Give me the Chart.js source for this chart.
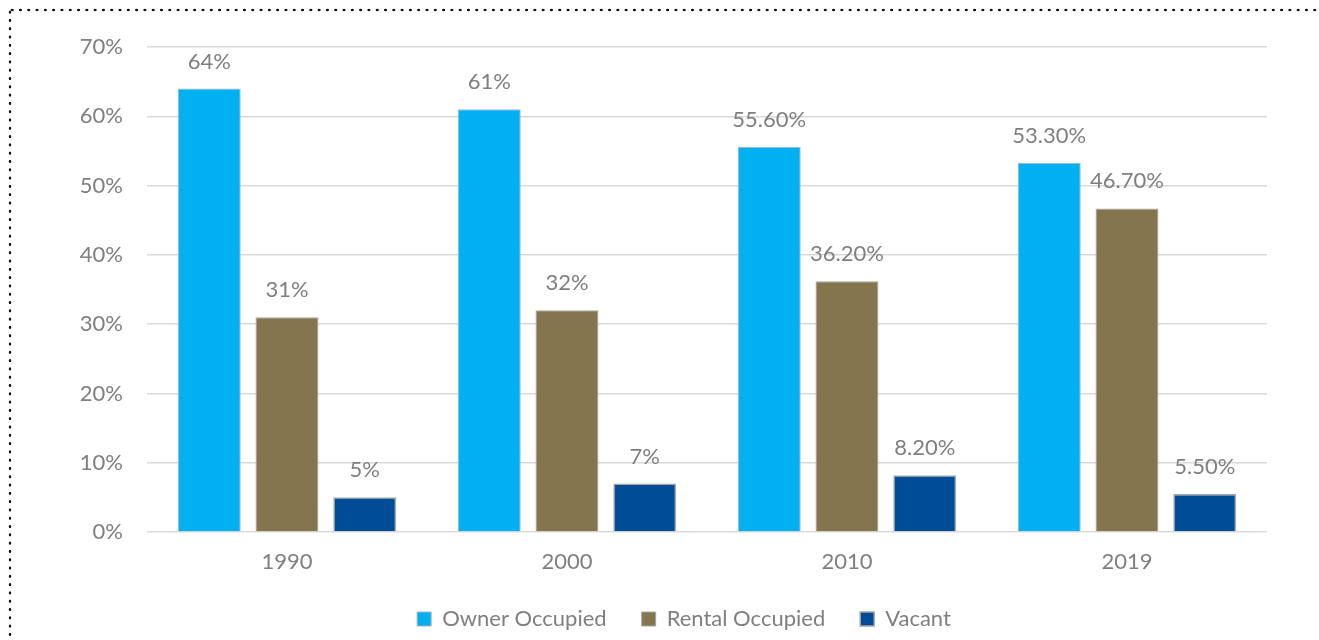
<!DOCTYPE html>
<html>
<head>
<meta charset="utf-8">
<script src="https://cdn.jsdelivr.net/npm/chart.js@4/dist/chart.umd.min.js"></script>
<style>
  body { margin: 0; background: #fff; }
  #wrap { position: relative; width: 1319px; height: 640px; overflow: hidden; }
  #dotTop { position: absolute; left: 8px; top: 8px; width: 1311px; height: 4px;
    background-image: radial-gradient(circle, #111 1.1px, transparent 1.6px);
    background-size: 8.3px 4px; background-repeat: repeat-x; }
  #dotLeft { position: absolute; left: 8px; top: 8px; width: 4px; height: 632px;
    background-image: radial-gradient(circle, #111 1.1px, transparent 1.6px);
    background-size: 4px 8.3px; background-repeat: repeat-y; }
  canvas { position: absolute; left: 0; top: 0; }
</style>
</head>
<body>
<div id="wrap">
  <div id="dotTop"></div>
  <div id="dotLeft"></div>
  <canvas id="myChart" width="1319" height="640"></canvas>
</div>
<script>
'use strict';

let years = ['1990', '2000', '2010', '2019'];
let ownerOccupied = [64, 61, 55.6, 53.3];
let rentalOccupied = [31, 32, 36.2, 46.7];
let vacant = [5, 7, 8.2, 5.5];
let ownerLabels = ['64%', '61%', '55.60%', '53.30%'];
let rentalLabels = ['31%', '32%', '36.20%', '46.70%'];
let vacantLabels = ['5%', '7%', '8.20%', '5.50%'];
let yTicks = [0, 10, 20, 30, 40, 50, 60, 70];

let fontName = 'Lato, "Open Sans", sans-serif';
let textGray = '#7f7f7f';

// value labels above each bar
let barLabels = {
  id: 'barLabels',
  afterDatasetsDraw(chart) {
    let ctx = chart.ctx;
    ctx.save();
    ctx.font = '22px ' + fontName;
    ctx.fillStyle = textGray;
    ctx.textAlign = 'center';
    ctx.textBaseline = 'alphabetic';
    chart.data.datasets.forEach((ds, i) => {
      let meta = chart.getDatasetMeta(i);
      meta.data.forEach((bar, j) => {
        ctx.fillText(ds.valueLabels[j], bar.x, bar.y - 20);
      });
    });
    ctx.restore();
  }
};

// legend in the reference sits a bit right of the canvas centre
let shiftLegend = {
  id: 'shiftLegend',
  afterLayout(chart) {
    chart.legend.left += 101;
  }
};

let ctx = document.getElementById('myChart').getContext('2d');
let chart = new Chart(ctx, {
  type: 'bar',
  data: {
    labels: years,
    datasets: [{
      label: 'Owner Occupied',
      data: ownerOccupied,
      valueLabels: ownerLabels,
      backgroundColor: '#00b0f0',
      borderColor: '#a6b4c4',
      borderWidth: 1
    }, {
      label: 'Rental Occupied',
      data: rentalOccupied,
      valueLabels: rentalLabels,
      backgroundColor: '#85754e',
      borderColor: '#a6a6a6',
      borderWidth: 1
    }, {
      label: 'Vacant',
      data: vacant,
      valueLabels: vacantLabels,
      backgroundColor: '#004c97',
      borderColor: '#a6a6a6',
      borderWidth: 1.5
    }]
  },
  options: {
    responsive: false,
    animation: false,
    layout: { padding: { top: 47, right: 52, left: 0, bottom: 0 } },
    datasets: { bar: { categoryPercentage: 0.833, barPercentage: 0.81 } },
    scales: {
      x: {
        afterFit(scale) { scale.height = 41; },
        grid: { display: false, drawTicks: false },
        border: { display: false },
        ticks: { color: textGray, font: { family: fontName, size: 22 }, padding: 17 }
      },
      y: {
        min: 0,
        max: 70,
        afterFit(scale) { scale.width = 147; },
        afterBuildTicks(scale) { scale.ticks = yTicks.map(v => ({ value: v })); },
        grid: { color: '#d9d9d9', lineWidth: 1.5, drawTicks: false },
        border: { display: false },
        ticks: {
          color: textGray,
          font: { family: fontName, size: 22 },
          padding: 24,
          callback: v => v + '%'
        }
      }
    },
    plugins: {
      legend: {
        position: 'bottom',
        labels: {
          color: textGray,
          font: { family: fontName, size: 22 },
          boxWidth: 14,
          boxHeight: 14,
          padding: 35
        }
      },
      tooltip: { enabled: false }
    }
  },
  plugins: [barLabels, shiftLegend]
});
</script>
</body>
</html>
